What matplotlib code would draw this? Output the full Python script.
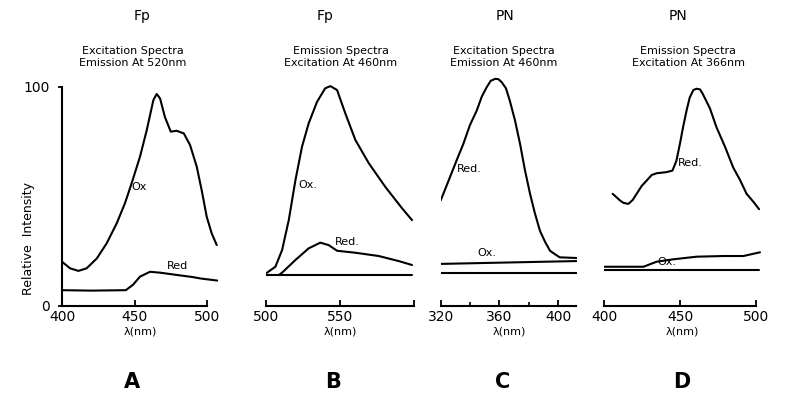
"""Fluorescence excitation / emission spectra of Fp and PN, oxidised vs reduced."""

import matplotlib
matplotlib.use("Agg")
import matplotlib.pyplot as plt

plt.rcParams["font.family"] = ["DejaVu Sans"]

# --- data ------------------------------------------------------------------
# Panel A: Fp excitation spectra, emission at 520 nm
a_ox_wl = [400, 405.5, 411.3, 417, 424, 430.8, 437.7, 443.4, 448, 453.8,
           458.4, 463, 465.3, 467.6, 471, 475, 479, 484, 488.3, 492.9,
           496.3, 499.8, 503.2, 506.7]
a_ox = [20, 17, 15.8, 17, 21.5, 28.4, 37.5, 46.7, 55.8, 68,
        80, 93.8, 96.6, 94.6, 86, 79.4, 79.8, 78.6, 73.3, 63.4,
        52.7, 40.5, 33, 27.6]
a_red_wl = [400, 420, 444, 449, 453.8, 460.7, 467.6, 482, 490, 496, 507]
a_red = [7, 6.8, 7, 9.5, 13.2, 15.4, 15, 13.7, 13, 12.3, 11.4]

# Panel B: Fp emission spectra, excitation at 460 nm
b_ox_wl = [500, 500.9, 506.5, 511, 515.5, 520, 524.4, 528.9, 534.5, 540,
           543.5, 548, 553.5, 560.3, 569.3, 580.4, 591.7, 598.4]
b_ox = [14.5, 15, 17.7, 25.3, 39, 57.3, 72.5, 83.2, 93, 99.2,
        100.2, 98.4, 87.8, 75.6, 65, 54.2, 44.4, 39]
b_red_wl = [509, 511, 520, 528.9, 536.7, 542.3, 548, 560.3, 576, 589.4, 598.4]
b_red = [14, 15, 20.8, 26.1, 28.7, 27.6, 25, 24.1, 22.6, 20.3, 18.5]
b_base_wl = [500, 598.4]
b_base = [14, 14]

# Panel C: PN excitation spectra, emission at 460 nm
c_red_wl = [320, 326.3, 330.9, 335.4, 339.9, 344.5, 347.9, 351.3, 354, 357,
            359.2, 361.5, 364.4, 367, 370.5, 374, 377.3, 380.8, 384.1, 387.6,
            391, 394.4, 397.8, 401, 412.5]
c_red = [48, 58.6, 66.4, 73.8, 82.4, 89, 95.3, 99.7, 102.6, 103.5,
         103.4, 102, 99.2, 93.6, 84.7, 73.8, 61.9, 51, 42.1, 34,
         29.1, 25, 23.4, 22, 21.7]
c_ox_wl = [320, 412.5]
c_ox = [19, 20.3]
c_base_wl = [320, 412.5]
c_base = [14.7, 14.7]

# Panel D: PN emission spectra, excitation at 366 nm
d_red_wl = [405.7, 408.3, 410.5, 412.7, 416, 418.9, 421.5, 424.8, 428, 431.4,
            434.6, 441, 445, 447.6, 450, 452, 454.4, 456.4, 458.8, 460.8,
            463.2, 465, 469.7, 474, 479.6, 485, 489.5, 493.8, 498.2, 502]
d_red = [51, 49.4, 48, 46.9, 46.4, 48.2, 51, 54.6, 57, 59.6,
         60.4, 60.9, 61.6, 66, 74, 81.4, 89.3, 95, 98.4, 99,
         98.7, 96.6, 90, 81.4, 72.5, 63, 57.3, 51, 47.4, 44]
d_ox_wl = [400, 426, 434.6, 445.6, 461, 478.5, 491.7, 502.6]
d_ox = [17.7, 17.7, 20, 21.1, 22.3, 22.6, 22.6, 24.3]
d_base_wl = [400, 502]
d_base = [16.2, 16.2]

compounds = ["Fp", "Fp", "PN", "PN"]
subtitles = ["Excitation Spectra\nEmission At 520nm",
             "Emission Spectra\nExcitation At 460nm",
             "Excitation Spectra\nEmission At 460nm",
             "Emission Spectra\nExcitation At 366nm"]
panel_letters = ["A", "B", "C", "D"]

# --- layout ------------------------------------------------------------------
W, H = 785, 394
fig = plt.figure(figsize=(W / 100, H / 100), dpi=100)

bottom, height = 0.2246, 0.5891
boxes = [(0.079, 0.1995), (0.3385, 0.1894), (0.5614, 0.1741), (0.7694, 0.1995)]
xlims = [(400, 508), (500, 600), (320, 413), (400, 503)]
xbounds = [(400, 500), (500, 600), (320, 412), (400, 500)]
xticks = [[400, 450, 500], [500, 550, 600], [320, 360, 400], [400, 450, 500]]
xticklabels = [["400", "450", "500"], ["500", "550", ""],
               ["320", "360", "400"], ["400", "450", "500"]]

# header / letter centres in pixels
compound_x = [142, 325, 505, 678]
subtitle_x = [133, 341, 504, 688]
letter_x = [132, 333, 503, 682]

axes = []
for i, (left, width) in enumerate(boxes):
    ax = fig.add_axes([left, bottom, width, height])
    ax.set_xlim(*xlims[i])
    ax.set_ylim(0, 106)
    for s in ["top", "right"]:
        ax.spines[s].set_visible(False)
    ax.spines["bottom"].set_bounds(*xbounds[i])
    ax.spines["bottom"].set_linewidth(1.5)
    ax.set_xticks(xticks[i])
    ax.set_xticklabels(xticklabels[i], fontsize=10)
    ax.tick_params(axis="x", direction="in", length=4, width=1.3, pad=3)
    ax.set_xlabel("λ(nm)", fontsize=8, labelpad=2)
    if i == 0:
        ax.spines["left"].set_bounds(0, 100)
        ax.spines["left"].set_linewidth(1.5)
        ax.set_yticks([0, 100])
        ax.set_yticklabels(["0", "100"], fontsize=10)
        ax.tick_params(axis="y", direction="out", length=3, width=1.3, pad=6)
        ax.set_ylabel("Relative  Intensity", fontsize=9)
        ax.yaxis.set_label_coords(-0.17, 0.29)
    else:
        ax.spines["left"].set_visible(False)
        ax.set_yticks([])
    if i == 2:
        ax.set_xticks([340, 380], minor=True)
        ax.tick_params(axis="x", which="minor", direction="in", length=3, width=1.2)

    fig.text(compound_x[i] / W, 1 - 16 / H, compounds[i], fontsize=10,
             ha="center", va="center")
    fig.text(subtitle_x[i] / W, 1 - 57 / H, subtitles[i], fontsize=8,
             ha="center", va="center", linespacing=1.15)
    fig.text(letter_x[i] / W, 1 - 382 / H, panel_letters[i], fontsize=15,
             fontweight="bold", ha="center", va="center")
    axes.append(ax)

kw = dict(color="black", lw=1.5, solid_capstyle="round", solid_joinstyle="round")

ax = axes[0]
ax.plot(a_ox_wl, a_ox, **kw)
ax.plot(a_red_wl, a_red, **kw)
ax.text(448, 54, "Ox", fontsize=8, va="center")
ax.text(472.4, 18, "Red", fontsize=8, va="center")

ax = axes[1]
ax.plot(b_ox_wl, b_ox, **kw)
ax.plot(b_red_wl, b_red, **kw)
ax.plot(b_base_wl, b_base, **kw)
ax.text(521.7, 55, "Ox.", fontsize=8, va="center")
ax.text(546.6, 29, "Red.", fontsize=8, va="center")

ax = axes[2]
ax.plot(c_red_wl, c_red, **kw)
ax.plot(c_ox_wl, c_ox, **kw)
ax.plot(c_base_wl, c_base, **kw)
ax.text(331, 62.3, "Red.", fontsize=8, va="center")
ax.text(344.7, 24, "Ox.", fontsize=8, va="center")

ax = axes[3]
ax.plot(d_red_wl, d_red, **kw)
ax.plot(d_ox_wl, d_ox, **kw)
ax.plot(d_base_wl, d_base, **kw)
ax.text(448.7, 65, "Red.", fontsize=8, va="center")
ax.text(434.9, 20, "Ox.", fontsize=8, va="center")

fig.savefig("out.png", dpi=100)
